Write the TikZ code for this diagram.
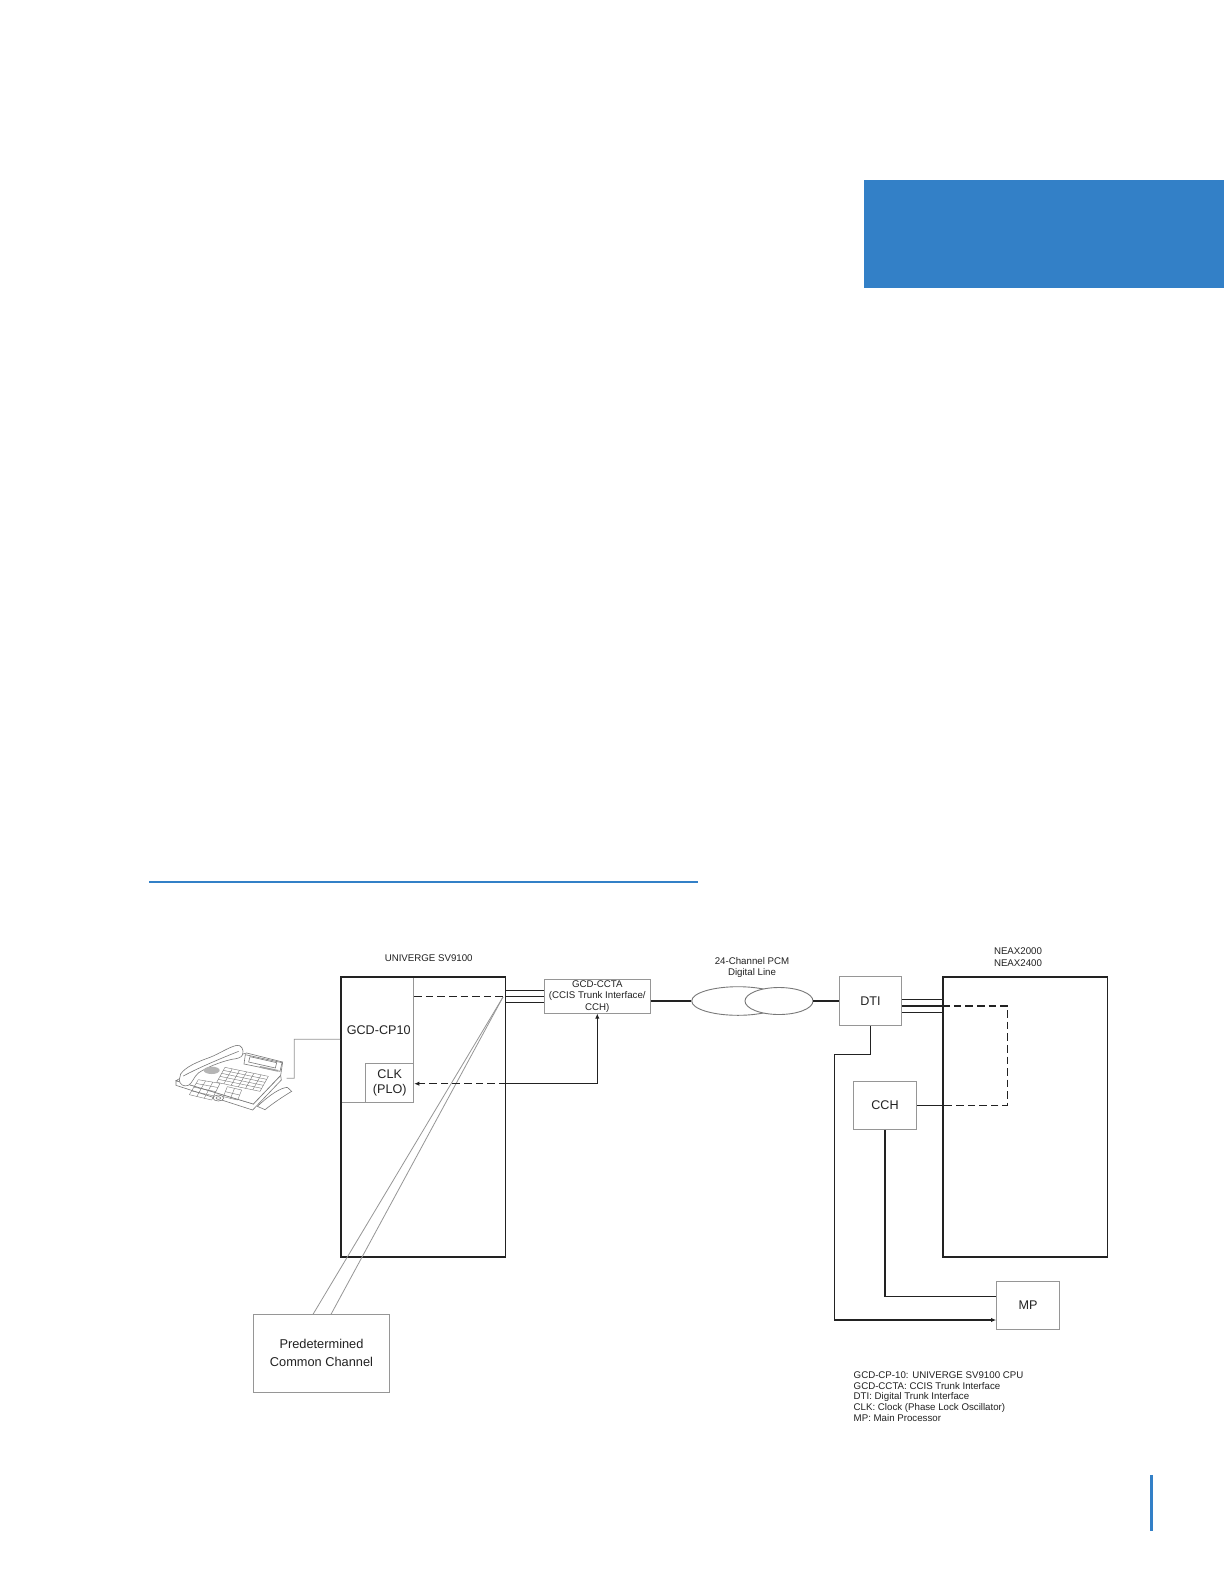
\documentclass[tikz,border=0pt]{standalone}
\usepackage{fontspec}
\setmainfont{Liberation Sans}
\usetikzlibrary{shapes.geometric,arrows.meta,calc}
\definecolor{hdrblue}{RGB}{51,128,199}
\definecolor{ink}{RGB}{34,34,34}
\definecolor{boxgray}{RGB}{150,150,150}
\definecolor{phonegray}{RGB}{120,120,120}
\tikzset{
 graybox/.style={draw=boxgray, line width=0.5pt, inner sep=0pt, fill=white},
 blackbox/.style={draw=ink, line width=0.8pt, inner sep=0pt},
 conn/.style={draw=ink, line width=0.6pt},
 dashconn/.style={draw=ink, line width=0.6pt, dash pattern=on 3.8pt off 2pt},
 arr/.style={-{Latex[length=2.6pt,width=2.2pt]}},
 lbl/.style={inner sep=0pt, text=ink, align=center},
 bigtxt/.style={font=\fontsize{6.3}{7.85}\selectfont},
 smalltxt/.style={font=\fontsize{4.85}{5.75}\selectfont},
 gline/.style={draw=boxgray, line width=0.4pt},
 pline/.style={draw=phonegray, line width=0.3pt},
 cloudshape/.style={ellipse, draw=phonegray, line width=0.45pt, inner sep=0pt},
}
\begin{document}
\begin{tikzpicture}[x=0.5pt,y=-0.5pt]
\useasboundingbox[fill=white] (0,0) rectangle (1224,1584);
% page decorations
\fill[hdrblue] (864,180) rectangle (1224,287.7);
\draw[hdrblue, line width=0.6pt] (149,882) -- (698,882);
\draw[hdrblue, line width=1.5pt] (1151,1475) -- (1151,1531);

% ---- phone ----
\begin{scope}[shift={(170,1038)}, x=0.16667pt, y=-0.16667pt]
 \draw[pline, fill=white] (262,205) .. controls (300,170) and (330,150) .. (352,148) -- (365,160) .. controls (340,175) and (310,195) .. (285,215) -- cycle;
 \draw[pline, fill=white] (18,128) -- (18,142) -- (248,216) -- (334,126) -- (332,112) -- (250,198) -- cycle;
 \draw[pline, fill=white] (18,128) -- (105,78) -- (230,45) -- (338,72) -- (332,112) -- (250,198) -- cycle;
 \draw[pline, fill=white] (226,50) -- (336,74) -- (330,100) -- (222,78) -- cycle;
 \draw[pline] (240,56) -- (320,74) -- (316,90) -- (236,72) -- cycle;
 \fill[phonegray!70] (270,84) -- (325,96) -- (323,101) -- (268,89) -- cycle;
 % function keys
 \coordinate (fa) at (165,88); \coordinate (fb) at (295,115);
 \coordinate (fc) at (270,160); \coordinate (fd) at (140,133);
 \foreach \i in {0,...,5} \draw[pline, line width=0.2pt] ($(fa)!\i/5!(fd)$) -- ($(fb)!\i/5!(fc)$);
 \foreach \j in {0,...,6} \draw[pline, line width=0.2pt] ($(fa)!\j/6!(fb)$) -- ($(fd)!\j/6!(fc)$);
 % dial keypad
 \coordinate (ka) at (85,125); \coordinate (kb) at (150,136);
 \coordinate (kc) at (125,186); \coordinate (kd) at (58,170);
 \foreach \i in {0,...,4} \draw[pline, line width=0.2pt] ($(ka)!\i/4!(kd)$) -- ($(kb)!\i/4!(kc)$);
 \foreach \j in {0,...,3} \draw[pline, line width=0.2pt] ($(ka)!\j/3!(kb)$) -- ($(kd)!\j/3!(kc)$);
 % small keys by the navigation ring
 \coordinate (sa) at (172,146); \coordinate (sb) at (215,156);
 \coordinate (sc) at (203,186); \coordinate (sd) at (160,176);
 \foreach \i in {0,1,2} \draw[pline, line width=0.2pt] ($(sa)!\i/2!(sd)$) -- ($(sb)!\i/2!(sc)$);
 \foreach \j in {0,1,2} \draw[pline, line width=0.2pt] ($(sa)!\j/2!(sb)$) -- ($(sd)!\j/2!(sc)$);
 \draw[pline, fill=white] (145,180) ellipse [x radius=16, y radius=9];
 \draw[pline] (145,180) ellipse [x radius=7, y radius=4];
 % handset
 \draw[pline, fill=white] (32,108) .. controls (45,88) and (80,72) .. (120,58) .. controls (150,46) and (175,28) .. (200,22) .. controls (215,20) and (222,35) .. (218,50) .. controls (214,60) and (200,62) .. (185,64) .. controls (150,72) and (110,88) .. (85,105) .. controls (70,118) and (68,135) .. (55,142) .. controls (42,147) and (28,140) .. (28,125) -- cycle;
 \draw[pline] (40,114) .. controls (80,92) and (150,62) .. (206,40);
 \fill[phonegray!55] (125,97) ellipse [x radius=24, y radius=11];
 \coordinate (phone) at (350,121);
\end{scope}

% ---- UNIVERGE SV9100 ----
\node[graybox, minimum width=36.35pt, minimum height=62.65pt] (cp10) at (377.35,1039.65) {};
\node[graybox, lbl, bigtxt, minimum width=24pt, minimum height=19.5pt] (clk) at (389.7,1082.8) {CLK\\(PLO)};
\node[blackbox, minimum width=82.25pt, minimum height=139.85pt] (sv) at (423.25,1116.85) {};
\node[lbl, bigtxt] (cp10lbl) at (378.7,1030) {GCD-CP10};
\node[lbl, smalltxt] (svlbl) at (428.7,957.7) {UNIVERGE SV9100};

\node[graybox, lbl, smalltxt, minimum width=53pt, minimum height=16.85pt] (ccta) at (597.3,996.15) {GCD-CCTA\\(CCIS Trunk Interface/\\CCH)};

\node[graybox, lbl, bigtxt, minimum width=68.2pt, minimum height=38.85pt, font=\fontsize{6.4}{9.2}\selectfont] (pcc) at (321.5,1353.15) {Predetermined\\Common Channel};

% ---- digital line ----
\node[cloudshape, minimum width=46.3pt, minimum height=14.3pt] (cloudA) at (738,1001) {};
\node[cloudshape, fill=white, minimum width=34pt, minimum height=13.5pt] (cloudB) at (779,1001) {};
\node[lbl, smalltxt, font=\fontsize{4.85}{5.2}\selectfont] (pcmlbl) at (752,967.5) {24-Channel PCM\\Digital Line};

% ---- NEAX ----
\node[graybox, lbl, bigtxt, minimum width=31.2pt, minimum height=24.3pt] (dti) at (870.5,1001) {DTI};
\node[graybox, lbl, bigtxt, minimum width=31.7pt, minimum height=24.15pt] (cch) at (885,1105.15) {CCH};
\node[graybox, lbl, bigtxt, minimum width=31.3pt, minimum height=24.15pt] (mp) at (1028,1305.15) {MP};
\node[blackbox, minimum width=82.15pt, minimum height=139.85pt] (neax) at (1025.15,1116.85) {};
\node[lbl, smalltxt, font=\fontsize{4.85}{6}\selectfont] (neaxlbl) at (1018,957.3) {NEAX2000\\NEAX2400};

% ---- helper coordinates ----
\coordinate (y1) at (0,990.7);
\coordinate (y2) at (0,996.3);
\coordinate (y3) at (0,1002.3);
\coordinate (ck) at (0,1083.7);
\coordinate (n1) at (0,999.3);
\coordinate (n2) at (0,1006);
\coordinate (n3) at (0,1012.3);
\coordinate (dl) at (1007.7,1006);
\coordinate (d1) at (834.3,1054.3);
\coordinate (md) at (0,1320);
\coordinate (mc) at (0,1296.3);
\coordinate (ph) at (0,1039.3);
\coordinate (apex) at (503,997);
\coordinate (pa) at (313,1314.3);
\coordinate (pb) at (331,1314.3);

% ---- connectors ----
\draw[gline] (phone) -- (294.3,1078.3) -- (294.3,1039.3) -- (sv.west |- ph);
\draw[gline] (apex) -- (pa);
\draw[gline] (apex) -- (pb);

\draw[dashconn] (cp10.east |- y2) -- (sv.east |- y2);
\draw[conn] (sv.east |- y1) -- (ccta.west |- y1);
\draw[conn] (sv.east |- y2) -- (ccta.west |- y2);
\draw[conn] (sv.east |- y3) -- (ccta.west |- y3);
\draw[conn, arr] (sv.east |- ck) -| (ccta.south);
\draw[dashconn, arr] (sv.east |- ck) -- (clk.east |- ck);

\draw[conn] (ccta.east |- cloudA.west) -- (cloudA.west);
\draw[conn] (cloudB.east) -- (dti.west);

\draw[conn] (dti.east |- n1) -- (neax.west |- n1);
\draw[conn] (dti.east |- n2) -- (neax.west |- n2);
\draw[conn] (dti.east |- n3) -- (neax.west |- n3);
\draw[dashconn] (neax.west |- n2) -- (dl) -- (dl |- cch.east) -- (neax.west |- cch.east);
\draw[conn] (cch.east) -- (neax.west |- cch.east);

\draw[conn, arr] (dti.south) -- (dti.south |- d1) -- (d1) -- (d1 |- md) -- (mp.west |- md);
\draw[conn] (cch.south) |- (mp.west |- mc);

% ---- legend ----
\node[lbl, align=left, anchor=west, font=\fontsize{4.85}{5.3}\selectfont] (legend) at (853.3,1396.5) {GCD-CP-10: UNIVERGE SV9100 CPU\\GCD-CCTA: CCIS Trunk Interface\\DTI: Digital Trunk Interface\\CLK: Clock (Phase Lock Oscillator)\\MP: Main Processor};
\end{tikzpicture}
\end{document}
